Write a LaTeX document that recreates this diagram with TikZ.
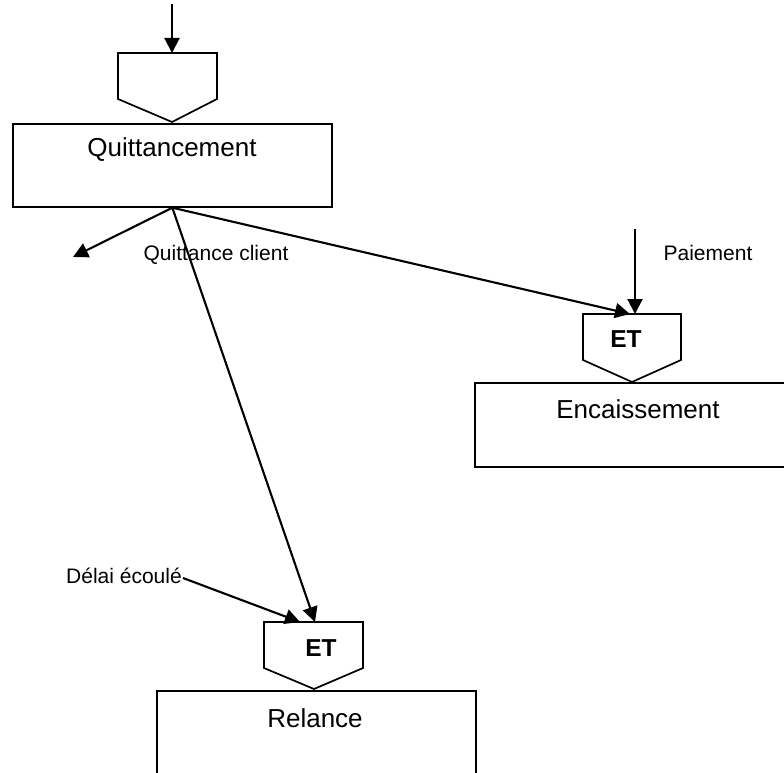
\documentclass[tikz,border=0pt]{standalone}
\usepackage{fontspec}
\setmainfont{Liberation Sans}
\usetikzlibrary{arrows.meta}
\begin{document}
\begin{tikzpicture}[x=1pt,y=-1pt,
  conn/.style={line width=2.1pt,-{Triangle[length=15pt,width=15pt]}},
  boxrect/.style={draw,line width=1.7pt,rectangle,inner sep=0pt,anchor=north west},
  pent/.style={draw,line width=1.7pt,line join=miter},
  boxtext/.style={font=\fontsize{26}{30}\selectfont,anchor=base,inner sep=0pt},
  lbl/.style={font=\fontsize{21}{25}\selectfont,anchor=base,inner sep=0pt},
  ettext/.style={font=\fontsize{24.5}{28}\selectfont\bfseries,inner sep=0pt}]
\useasboundingbox (0,0) rectangle (784,773);
\clip (0,0) rectangle (784,773);

% boxes
\node[boxrect,minimum width=319pt,minimum height=83pt] (quitt) at (12,123) {};
\node[boxrect,minimum width=320pt,minimum height=84pt] (encais) at (474,382) {};
\node[boxrect,minimum width=319pt,minimum height=110pt] (relance) at (156,690) {};

\node[boxtext] (quittxt) at (172,157) {Quittancement};
\node[boxtext] (encaistxt) at (638,418) {Encaissement};
\node[boxtext] (relancetxt) at (315,727) {Relance};

% pentagons
\draw[pent] (118,53) -- (217,53) -- (217,99) -- (172,122) -- (118,99) -- cycle;
\draw[pent] (583,314) -- (681,314) -- (681,360) -- (632,382) -- (583,360) -- cycle;
\draw[pent] (264,622) -- (363,622) -- (363,668) -- (314,689) -- (264,668) -- cycle;
\node[ettext] (et1) at (626,339) {ET};
\node[ettext] (et2) at (321,648) {ET};

% labels
\node[lbl] (qclient) at (216,260) {Quittance client};
\node[lbl] (paie) at (708,260) {Paiement};
\node[lbl] (delai) at (124,583) {Délai écoulé};

% coordinates
\coordinate (topstart) at (172,4);
\coordinate (p0top) at (172,53);
\coordinate (qcend) at (73,257);
\coordinate (et1in) at (630,314);
\coordinate (paystart) at (635,229);
\coordinate (et1pay) at (635,314);
\coordinate (et2in) at (315,622);
\coordinate (delstart) at (183,578);
\coordinate (et2del) at (300,622);

% connectors
\draw[conn] (topstart) -- (p0top);
\draw[conn] (quitt.south) -- (qcend);
\draw[conn] (quitt.south) -- (et1in);
\draw[conn] (paystart) -- (et1pay);
\draw[conn] (quitt.south) -- (et2in);
\draw[conn] (delstart) -- (et2del);
\end{tikzpicture}
\end{document}
